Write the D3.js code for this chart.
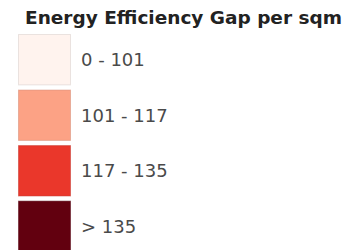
<!DOCTYPE html>
<html>
<head>
<meta charset="utf-8">
<script src="https://cdn.jsdelivr.net/npm/d3@7"></script>
<style>
  body { margin: 0; background: #fff; }
  text { font-family: "DejaVu Sans", "Liberation Sans", Arial, sans-serif; }
</style>
</head>
<body>
<div class="legend"></div>
<script>
// Legend for energy efficiency gap classes

var svgwidth = 364;
var svgheight = 250;

var title = "Energy Efficiency Gap per sqm";
var classLabels = ["0 - 101", "101 - 117", "117 - 135", "> 135"];
var classColors = ["#fff3ee", "#fca285", "#ea372b", "#62000f"];

var svg = d3.select(".legend")
    .append("svg")
    .attr("width", svgwidth)
    .attr("height", svgheight);

var titleText = svg.append("text")
    .attr("x", 25)
    .attr("y", 24)
    .attr("font-size", "17px")
    .attr("font-weight", "bold")
    .attr("fill", "#222")
    .text(title);

// stretch the title to the width it has in the picture
var tw = titleText.node().getComputedTextLength();
titleText.attr("font-size", (17 * 317 / tw).toFixed(2) + "px");

// band scale for the swatch rows
var yScale = d3.scaleBand()
    .domain(classLabels)
    .range([34, 252])
    .paddingInner(0.075)
    .paddingOuter(0);

var colorScale = d3.scaleOrdinal()
    .domain(classLabels)
    .range(classColors);

var rows = svg.selectAll("g.row")
    .data(classLabels)
    .enter()
    .append("g")
    .attr("class", "row");

rows.append("rect")
    .attr("x", 18.5)
    .attr("y", d => yScale(d) + 0.5)
    .attr("width", 52)
    .attr("height", yScale.bandwidth() - 1)
    .attr("fill", d => colorScale(d))
    .attr("stroke", d => d3.color(colorScale(d)).darker(0.5))
    .attr("stroke-opacity", 0.5);

rows.append("text")
    .attr("x", 81)
    .attr("y", d => yScale(d) + yScale.bandwidth() / 2)
    .attr("dy", "0.36em")
    .attr("font-size", "18px")
    .attr("fill", "#4a4a4a")
    .text(d => d);
</script>
</body>
</html>
